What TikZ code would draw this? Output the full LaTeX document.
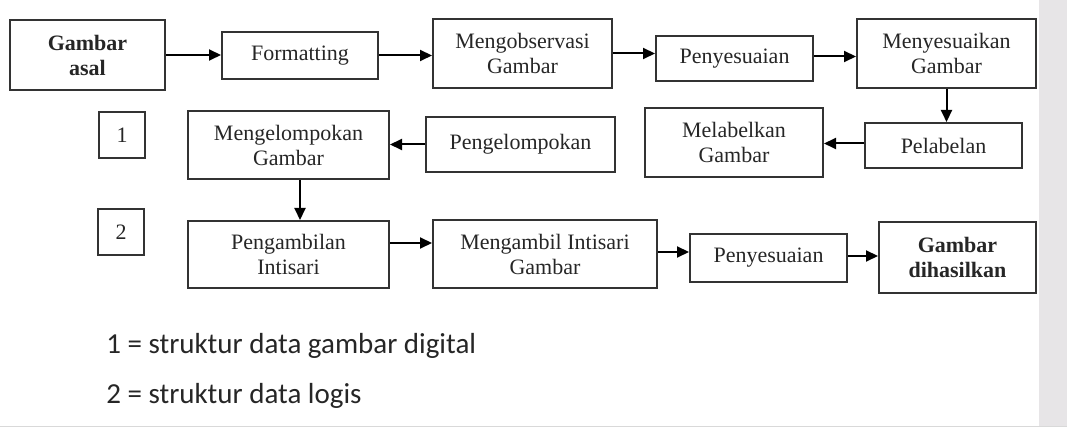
\documentclass[tikz,border=0pt]{standalone}
\usepackage{fontspec}
\setmainfont{Liberation Serif}
\newfontfamily\legendfont{Carlito}
\usetikzlibrary{arrows.meta}
\definecolor{sidegray}{HTML}{E7E5E7}
\tikzset{->,  % makes the edges directed
>={Triangle[length=12pt,width=11pt]}, % filled arrow heads
every box/.style={draw=black!80, align=center, inner sep=0pt, font=\fontsize{22}{25}\selectfont, text=black!85}, % sets the properties for each box
boldbox/.style={every box, font=\fontsize{22}{25}\selectfont\bfseries}, % start and end boxes
numbox/.style={every box, minimum size=46pt}, % the small numbered boxes
legend/.style={anchor=base west, font=\legendfont\fontsize{29}{32}\selectfont, text=black!85}, % the key under the diagram
}
\begin{document}
\begin{tikzpicture}[x=1pt,y=-1pt,line width=2pt]
    \useasboundingbox (0,0) rectangle (1067,427);
    \fill[sidegray] (1039,0) rectangle (1067,427);
    \draw[-, line width=1pt, black!15] (0,426) -- (1067,426);
    \node[boldbox, minimum width=155pt, minimum height=70pt] (asal) at (87.5,55) {Gambar\\asal};
    \node[every box, minimum width=156pt, minimum height=47pt] (fmt) at (300,55.5) {Formatting};
    \node[every box, minimum width=179pt, minimum height=69pt] (obs) at (522.5,53.5) {Mengobservasi\\Gambar};
    \node[every box, minimum width=157pt, minimum height=45pt] (pny1) at (734.5,58.5) {Penyesuaian};
    \node[every box, minimum width=179pt, minimum height=69pt] (mys) at (946.5,53.5) {Menyesuaikan\\Gambar};
    \node[numbox] (n1) at (122,135) {1};
    \node[every box, minimum width=201pt, minimum height=68pt] (klp) at (288.5,145.5) {Mengelompokan\\Gambar};
    \node[every box, minimum width=189pt, minimum height=55pt] (pklp) at (520.5,144.5) {Pengelompokan};
    \node[every box, minimum width=178pt, minimum height=69pt] (mlb) at (734,142.5) {Melabelkan\\Gambar};
    \node[every box, minimum width=157pt, minimum height=45pt] (plb) at (943.5,145.5) {Pelabelan};
    \node[numbox] (n2) at (121,232) {2};
    \node[every box, minimum width=201pt, minimum height=67pt] (pgi) at (288.5,254.5) {Pengambilan\\Intisari};
    \node[every box, minimum width=224pt, minimum height=68pt] (mgi) at (545,254) {Mengambil Intisari\\Gambar};
    \node[every box, minimum width=157pt, minimum height=48pt] (pny2) at (768.5,258) {Penyesuaian};
    \node[boldbox, minimum width=157pt, minimum height=71pt] (hsl) at (957.5,257.5) {Gambar\\dihasilkan};
    \node[legend] (k1) at (102,353) {1 = struktur data gambar digital};
    \node[legend] (k2) at (102,403) {2 = struktur data logis};
    \path (asal.east) edge (asal.east -| fmt.west)
    (fmt.east) edge (fmt.east -| obs.west)
    (obs.east) edge (obs.east -| pny1.west)
    ([yshift=2pt]pny1.east) edge ([yshift=2pt]pny1.east -| mys.west)
    (mys.south) edge (mys.south |- plb.north)
    ([yshift=2pt]plb.west) edge ([yshift=2pt]plb.west -| mlb.east)
    (pklp.west) edge (pklp.west -| klp.east)
    ([xshift=11.5pt]klp.south) edge ([xshift=11.5pt]klp.south |- pgi.north)
    ([yshift=11.5pt]pgi.east) edge ([yshift=11.5pt]pgi.east -| mgi.west)
    ([yshift=2pt]mgi.east) edge ([yshift=2pt]mgi.east -| pny2.west)
    ([yshift=2pt]pny2.east) edge ([yshift=2pt]pny2.east -| hsl.west);
\end{tikzpicture}
\end{document}
